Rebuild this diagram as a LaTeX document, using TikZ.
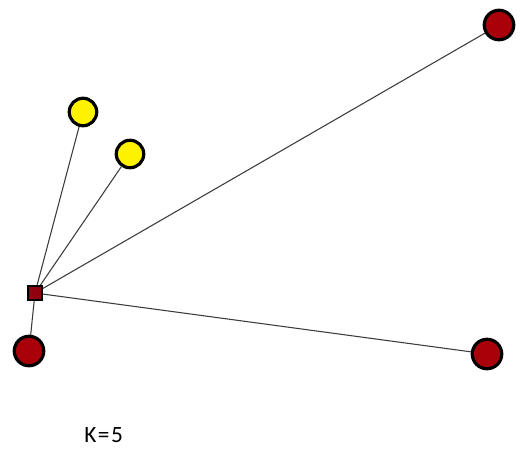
\documentclass[tikz,border=0pt]{standalone}
\usepackage{fontspec}
\setmainfont{Carlito}
\definecolor{nodered}{RGB}{170,0,10}
\definecolor{sqred}{RGB}{145,0,15}
\definecolor{edgegray}{RGB}{60,60,60}
\begin{document}
\begin{tikzpicture}[x=0.75pt,y=-0.75pt,
  rednode/.style={circle,draw=black,line width=2.4pt,fill=nodered,minimum size=29.5*0.75pt,inner sep=0pt},
  yelnode/.style={circle,draw=black,line width=2.4pt,fill=yellow,minimum size=27.5*0.75pt,inner sep=0pt},
  hub/.style={rectangle,draw=black,line width=1.2pt,fill=sqred,minimum size=14*0.75pt,inner sep=0pt},
  edge/.style={draw=edgegray,line width=0.8pt}]
\useasboundingbox (0,0) rectangle (521,451);
\coordinate (h) at (35,293);
\node[yelnode] (y1) at (83,112) {};
\node[yelnode] (y2) at (130,154) {};
\node[rednode] (r1) at (499,25) {};
\node[rednode] (r2) at (29,351) {};
\node[rednode] (r3) at (487,354) {};
\draw[edge] (h) -- (y1);
\draw[edge] (h) -- (y2);
\draw[edge] (h) -- (r1);
\draw[edge] (h) -- (r2);
\draw[edge] (h) -- (r3);
\node[hub] (hubnode) at (h) {};
\node[font=\fontsize{17.5}{20}\selectfont,anchor=base west,inner sep=0pt] (lab) at (84,442) {K\kern1.2pt=\kern1.2pt5};
\end{tikzpicture}
\end{document}
